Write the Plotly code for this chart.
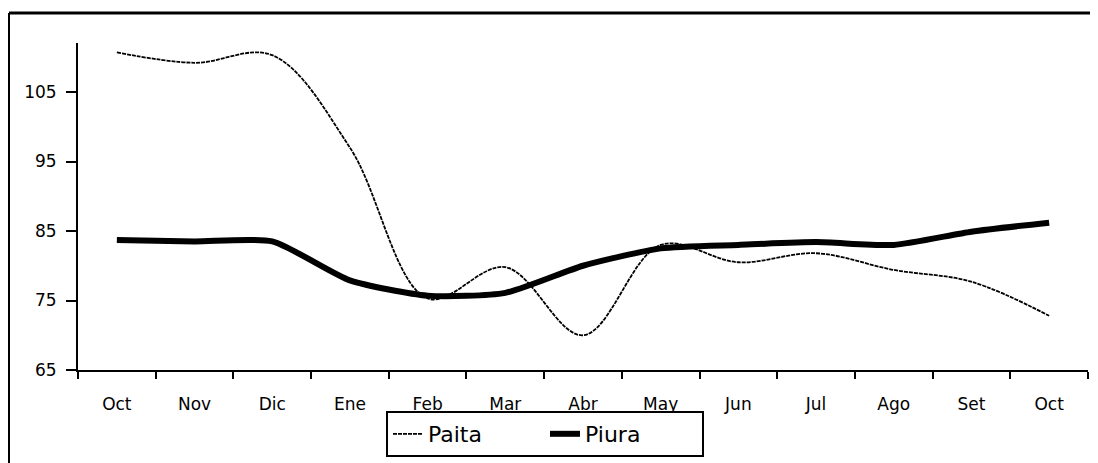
import plotly.graph_objects as go

months = ["Oct", "Nov", "Dic", "Ene", "Feb", "Mar", "Abr", "May", "Jun", "Jul", "Ago", "Set", "Oct"]
paita = [110.7, 109.2, 110.3, 97.0, 75.3, 79.8, 70.0, 83.0, 80.5, 81.8, 79.4, 77.7, 72.8]
piura = [83.7, 83.5, 83.5, 77.9, 75.7, 76.1, 80.0, 82.5, 83.0, 83.4, 83.0, 84.9, 86.2]
y_ticks = [65, 75, 85, 95, 105]

x = list(range(len(months)))

fig = go.Figure()
fig.add_trace(go.Scatter(x=x, y=paita, name="Paita", mode="lines",
                         line=dict(color="black", width=1.8, dash="4px,1px", shape="spline", smoothing=1.0)))
fig.add_trace(go.Scatter(x=x, y=piura, name="Piura", mode="lines",
                         line=dict(color="black", width=6, shape="spline", smoothing=0.6)))

# page body has an 8px margin, so figure-space pixel = screen pixel - 8
OFF = 8
L, R, T, B = 78 - OFF, 1088 - OFF, 43 - OFF, 370 - OFF
W, H = 1098 - OFF, 463 - OFF

def px(xs):
    return (xs - OFF - L) / (R - L)

def py(ys):
    return (B - (ys - OFF)) / (B - T)

fig.update_layout(
    width=W, height=H,
    margin=dict(l=L, r=W - R, t=T, b=H - B, autoexpand=False),
    paper_bgcolor="white", plot_bgcolor="white",
    font=dict(family="DejaVu Sans", color="black", size=17),
    showlegend=True,
    legend=dict(orientation="h", x=px(545), xanchor="center", y=py(411), yanchor="top",
                bordercolor="black", borderwidth=2, font=dict(size=22, family="DejaVu Sans"),
                bgcolor="white", entrywidth=112, entrywidthmode="pixels", tracegroupgap=0),
    xaxis=dict(range=[-0.5, len(months) - 0.5], tickvals=x, ticktext=months, ticks="",
               showgrid=False, zeroline=False, showline=True, linecolor="black", linewidth=2,
               ticklabelstandoff=18, tickfont=dict(size=17),
               minor=dict(tick0=-0.5, dtick=1, ticks="outside", ticklen=7, tickwidth=2, tickcolor="black", showgrid=False)),
    yaxis=dict(range=[65, 112.05], tickvals=y_ticks, ticks="outside", ticklen=10, tickwidth=2,
               tickcolor="black", showgrid=False, zeroline=False, showline=True, linecolor="black",
               linewidth=2, tickfont=dict(size=17), ticklabelstandoff=6),
)

# outer chart-area border (top and left edges visible)
fig.add_shape(type="line", xref="paper", yref="paper", x0=px(9), x1=px(1110), y0=py(13), y1=py(13),
              line=dict(color="black", width=3))
fig.add_shape(type="line", xref="paper", yref="paper", x0=px(9), x1=px(9), y0=py(13), y1=py(480),
              line=dict(color="black", width=2))

fig.write_html("out.html")
